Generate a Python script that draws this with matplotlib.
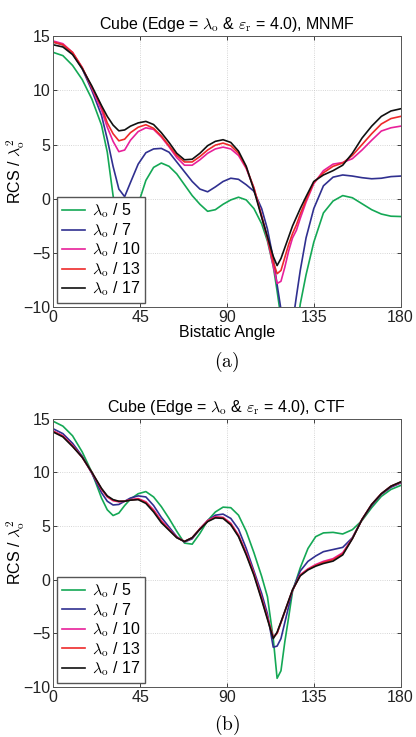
import matplotlib
matplotlib.use("Agg")
import matplotlib.pyplot as plt

plt.rcParams['font.family'] = ['Liberation Sans', 'DejaVu Sans']
plt.rcParams['mathtext.fontset'] = 'cm'

# legend labels and colours
labels = [r'$\lambda_\mathrm{o}$ / 5', r'$\lambda_\mathrm{o}$ / 7', r'$\lambda_\mathrm{o}$ / 10',
          r'$\lambda_\mathrm{o}$ / 13', r'$\lambda_\mathrm{o}$ / 17']
colors = ['#14a855', '#303090', '#e8209a', '#ee2a2a', '#111111']

# (a) MNMF
ang_a = [0, 5, 10, 15, 20, 25, 28, 31, 34, 37, 40, 44, 48, 52, 56, 60, 64, 68, 72, 76, 80, 84,
         88, 92, 96, 100, 104, 108, 111, 114, 116, 118, 120, 122, 124, 126, 128, 131, 135, 140,
         145, 150, 155, 160, 165, 170, 175, 180]
a_l5 = [13.5, 13.2, 12.3, 11.0, 9.2, 6.8, 4.3, 0.3, -3.5, -6.0, -5.0, -0.5, 1.7, 2.9, 3.3, 3.0,
        2.3, 1.3, 0.3, -0.5, -1.15, -1.0, -0.5, -0.1, 0.15, -0.1, -0.9, -2.3, -3.9, -6.2, -8.5,
        -11.0, -14.0, -16.0, -15.0, -12.5, -9.7, -7.0, -4.0, -1.3, -0.2, 0.3, 0.1, -0.45, -1.0,
        -1.4, -1.6, -1.63]
a_l7 = [14.45, 14.2, 13.4, 12.0, 10.0, 7.7, 5.5, 3.0, 0.9, 0.2, 1.5, 3.2, 4.25, 4.6, 4.65, 4.3,
        3.4, 2.5, 1.6, 0.9, 0.65, 1.1, 1.6, 1.9, 1.8, 1.3, 0.7, -0.9, -2.8, -5.5, -7.9, -10.2,
        -13.0, -14.0, -11.5, -9.0, -6.6, -3.6, -0.9, 1.2, 2.0, 2.2, 2.1, 1.95, 1.85, 1.9, 2.05, 2.1]
a_l10 = [14.55, 14.3, 13.5, 12.1, 10.2, 8.2, 6.6, 5.3, 4.35, 4.5, 5.4, 6.2, 6.55, 6.4, 5.7, 4.8,
         3.8, 3.1, 3.1, 3.6, 4.2, 4.6, 4.77, 4.6, 4.0, 2.8, 1.0, -1.6, -3.7, -6.2, -7.8, -7.6,
         -6.3, -4.8, -3.6, -2.9, -1.8, -0.3, 1.4, 2.6, 3.2, 3.35, 3.7, 4.5, 5.4, 6.25, 6.55, 6.7]
a_l13 = [14.45, 14.2, 13.5, 12.1, 10.3, 8.5, 7.0, 6.0, 5.35, 5.5, 6.1, 6.6, 6.83, 6.5, 5.8, 4.9,
         4.0, 3.4, 3.4, 3.9, 4.5, 4.95, 5.14, 4.9, 4.2, 2.9, 1.0, -1.6, -3.6, -5.8, -6.9, -6.6,
         -5.4, -4.2, -3.2, -2.4, -1.4, -0.1, 1.5, 2.4, 3.0, 3.3, 4.0, 5.0, 6.0, 6.9, 7.4, 7.6]
a_l17 = [14.2, 14.0, 13.3, 12.0, 10.4, 8.6, 7.6, 6.8, 6.27, 6.35, 6.7, 7.0, 7.14, 6.85, 6.1, 5.2,
         4.2, 3.6, 3.65, 4.2, 4.9, 5.3, 5.45, 5.2, 4.4, 3.0, 0.8, -1.7, -3.5, -5.3, -6.15, -5.5,
         -4.5, -3.5, -2.5, -1.7, -0.9, 0.2, 1.6, 2.2, 2.6, 3.1, 4.2, 5.6, 6.7, 7.6, 8.1, 8.3]

# (b) CTF
ang_b = [0, 5, 10, 15, 20, 25, 28, 31, 34, 37, 40, 44, 48, 52, 56, 60, 64, 68, 72, 76, 80, 84,
         88, 92, 96, 100, 104, 108, 111, 114, 116, 118, 120, 122, 124, 128, 132, 136, 140, 145,
         150, 155, 160, 165, 170, 175, 180]
b_l5 = [14.75, 14.3, 13.4, 11.9, 10.0, 7.6, 6.5, 5.97, 6.2, 6.9, 7.5, 8.0, 8.2, 7.7, 6.8, 5.7,
        4.5, 3.4, 3.3, 4.3, 5.5, 6.3, 6.75, 6.7, 6.0, 4.5, 2.5, 0.3, -1.6, -5.5, -9.2, -8.5,
        -5.8, -3.5, -1.1, 1.1, 2.9, 4.0, 4.35, 4.4, 4.25, 4.65, 5.5, 6.7, 7.75, 8.4, 8.77]
b_l7 = [14.05, 13.6, 12.7, 11.5, 9.9, 8.1, 7.3, 6.95, 7.0, 7.3, 7.6, 7.8, 7.7, 6.9, 5.8, 4.9,
        4.0, 3.5, 3.8, 4.7, 5.5, 6.0, 6.1, 5.7, 4.7, 2.9, 0.8, -1.3, -3.2, -6.3, -6.2, -5.5,
        -4.0, -2.5, -1.0, 0.8, 1.7, 2.2, 2.6, 2.8, 3.0, 3.9, 5.6, 6.9, 7.95, 8.6, 9.0]
b_l10 = [13.85, 13.4, 12.5, 11.4, 9.95, 8.4, 7.7, 7.35, 7.25, 7.3, 7.45, 7.55, 7.25, 6.5, 5.5,
         4.7, 3.95, 3.55, 3.9, 4.75, 5.5, 5.85, 5.8, 5.25, 4.15, 2.5, 0.6, -1.7, -3.5, -5.35,
         -5.0, -4.0, -3.0, -2.0, -1.0, 0.45, 1.0, 1.4, 1.7, 1.95, 2.5, 3.85, 5.6, 7.0, 8.0, 8.7, 9.05]
b_l13 = [13.8, 13.35, 12.45, 11.4, 10.0, 8.45, 7.75, 7.4, 7.28, 7.3, 7.42, 7.5, 7.18, 6.4, 5.4,
         4.65, 3.92, 3.55, 3.9, 4.72, 5.45, 5.8, 5.75, 5.18, 4.08, 2.4, 0.5, -1.8, -3.6, -5.4,
         -5.0, -3.98, -2.98, -1.98, -0.98, 0.4, 0.95, 1.32, 1.6, 1.85, 2.4, 3.82, 5.6, 7.0, 8.0,
         8.7, 9.08]
b_l17 = [13.75, 13.3, 12.4, 11.4, 10.0, 8.5, 7.8, 7.45, 7.3, 7.3, 7.4, 7.45, 7.1, 6.3, 5.3, 4.6,
         3.9, 3.55, 3.9, 4.7, 5.4, 5.75, 5.7, 5.1, 4.0, 2.3, 0.4, -1.9, -3.7, -5.5, -4.9, -3.95,
         -2.95, -1.95, -0.95, 0.35, 0.9, 1.25, 1.5, 1.72, 2.3, 3.8, 5.6, 7.0, 8.0, 8.7, 9.1]

fig = plt.figure(figsize=(4.16, 7.37), dpi=100)
ax1 = fig.add_axes([0.128, 0.583, 0.835, 0.368])
ax2 = fig.add_axes([0.128, 0.068, 0.835, 0.364])


def style(ax, title):
    ax.set_xlim(0, 180)
    ax.set_ylim(-10, 15)
    ax.set_xticks([0, 45, 90, 135, 180])
    ax.set_yticks([-10, -5, 0, 5, 10, 15])
    ax.tick_params(direction='in', length=3, width=0.6, top=True, right=True,
                   labelsize=11.5, colors='#222222', pad=2)
    ax.grid(True, linestyle=':', linewidth=0.6, color='#c8c8c8')
    for s in ax.spines.values():
        s.set_linewidth(0.7)
        s.set_color('#555555')
    ax.set_title(title, fontsize=11.5, pad=5)
    ax.set_ylabel(r'RCS / $\lambda_\mathrm{o}^2$', fontsize=11.5)
    ax.yaxis.set_label_coords(-0.075, 0.5)
    ax.legend(loc='lower left', bbox_to_anchor=(0.01, 0.015), borderaxespad=0,
              fancybox=False, edgecolor='#555555', framealpha=1, fontsize=11.5,
              handlelength=1.5, handletextpad=0.4, labelspacing=0.05, borderpad=0.3)


for ys, c, lab in zip([a_l5, a_l7, a_l10, a_l13, a_l17], colors, labels):
    ax1.plot(ang_a, ys, color=c, linewidth=1.2, label=lab)
for ys, c, lab in zip([b_l5, b_l7, b_l10, b_l13, b_l17], colors, labels):
    ax2.plot(ang_b, ys, color=c, linewidth=1.2, label=lab)

style(ax1, r'Cube (Edge = $\lambda_\mathrm{o}$ & $\varepsilon_\mathrm{r}$ = 4.0), MNMF')
style(ax2, r'Cube (Edge = $\lambda_\mathrm{o}$ & $\varepsilon_\mathrm{r}$ = 4.0), CTF')
ax1.set_xlabel('Bistatic Angle', fontsize=11.5, labelpad=0)

fig.text(0.5455, 1 - 362 / 737, r'$\mathrm{(a)}$', ha='center', va='center', fontsize=14)
fig.text(0.5455, 1 - 725 / 737, r'$\mathrm{(b)}$', ha='center', va='center', fontsize=14)

fig.savefig('out.png', dpi=100)
